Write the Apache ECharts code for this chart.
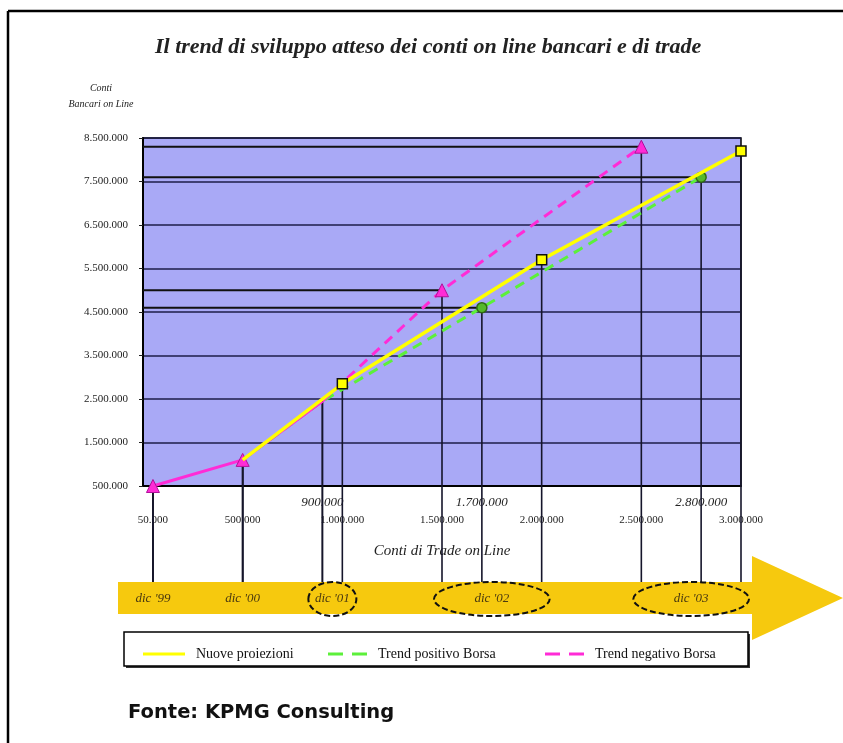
<!DOCTYPE html>
<html><head><meta charset="utf-8">
<script src="https://cdn.jsdelivr.net/npm/echarts@6/dist/echarts.min.js"></script>
<style>html,body{margin:0;padding:0;background:#fff}#c{width:843px;height:743px}</style>
</head><body><div id="c"></div>
<script>
// ---- data ----
const anni = ["dic '99", "dic '00", "dic '01", "dic '02", "dic '03"];
const tradeNuove     = [50000, 500000, 1000000, 2000000, 3000000];
const bancheNuove    = [500000, 1100000, 2850000, 5700000, 8200000];
const tradePositivo  = [50000, 500000, 900000, 1700000, 2800000];
const banchePositivo = [500000, 1100000, 2450000, 4600000, 7600000];
const tradeNegativo  = [50000, 500000, 900000, 1500000, 2500000];
const bancheNegativo = [500000, 1100000, 2450000, 5000000, 8300000];
const tradeTickLabels = [50000, 500000, 1000000, 1500000, 2000000, 2500000, 3000000];
const tradeTickLabelsAlti = [900000, 1700000, 2800000];
const nomi = ['Nuove proiezioni', 'Trend positivo Borsa', 'Trend negativo Borsa'];

// ---- helpers ----
const fmt = n => String(n).replace(/\B(?=(\d{3})+(?!\d))/g, '.');
const SERIF = '"Liberation Serif", "DejaVu Serif", serif';
const YELLOW = '#ffff00', GREEN = '#5cf03a', PINK = '#ff2bd6';

function pts(xs, ys, from, to, markIdx, mk) {
  const out = [];
  for (let i = from; i <= to; i++) {
    const p = { value: [xs[i], ys[i]] };
    if (markIdx.indexOf(i) >= 0) { Object.assign(p, mk); } else { p.symbol = 'none'; }
    out.push(p);
  }
  return out;
}
const sqMk = { symbol: 'rect', symbolSize: 10, itemStyle: { color: YELLOW, borderColor: '#111', borderWidth: 1.5 } };
const ciMk = { symbol: 'circle', symbolSize: 10, itemStyle: { color: '#56b82c', borderColor: '#2e6a12', borderWidth: 1.5 } };
const trMk = { symbol: 'triangle', symbolSize: 13, itemStyle: { color: PINK, borderColor: '#b0109a', borderWidth: 1 } };

const dashPath = 'path://M0,0h15v3h-15zM24,0h15v3h-15z';
const solidPath = 'path://M0,0h42v3h-42z';
const legTxt = { fontFamily: SERIF, fontSize: 14, color: '#111', padding: [0, 0, 0, 6] };

const option = {
  animation: false,
  backgroundColor: '#fff',
  title: {
    text: 'Il trend di sviluppo atteso dei conti on line bancari e di trade',
    left: 150, top: 31,
    textStyle: { fontFamily: SERIF, fontStyle: 'italic', fontWeight: 'bold', fontSize: 22, color: '#222' }
  },
  legend: [
    { data: [nomi[0]], left: 138, top: 642, icon: solidPath, itemWidth: 42, itemHeight: 3, textStyle: legTxt, itemStyle: { borderWidth: 0 } },
    { data: [nomi[1]], left: 323, top: 642, icon: dashPath, itemWidth: 39, itemHeight: 3, textStyle: legTxt, itemStyle: { borderWidth: 0 } },
    { data: [nomi[2]], left: 540, top: 642, icon: dashPath, itemWidth: 39, itemHeight: 3, textStyle: legTxt, itemStyle: { borderWidth: 0 } }
  ],
  grid: {
    left: 143, right: 102, top: 138, bottom: 257,
    show: true, backgroundColor: '#a9a9f6', borderColor: '#000', borderWidth: 1.5
  },
  xAxis: [
    {
      type: 'value', min: 0, max: 3000000, position: 'bottom',
      name: 'Conti di Trade on Line', nameLocation: 'middle', nameGap: 58,
      nameTextStyle: { fontFamily: SERIF, fontStyle: 'italic', fontSize: 15, color: '#222' },
      axisLine: { show: true, lineStyle: { color: '#000', width: 2 } },
      axisTick: { show: false },
      splitLine: { show: false },
      axisLabel: { customValues: tradeTickLabels, formatter: v => fmt(v), margin: 29,
        fontFamily: SERIF, fontSize: 11, color: '#222' }
    },
    {
      type: 'value', min: 0, max: 3000000, position: 'bottom',
      axisLine: { show: false }, axisTick: { show: false }, splitLine: { show: false },
      axisLabel: { customValues: tradeTickLabelsAlti, formatter: v => fmt(v), margin: 10,
        fontFamily: SERIF, fontStyle: 'italic', fontSize: 13, color: '#222' }
    }
  ],
  yAxis: {
    type: 'value', min: 500000, max: 8500000, interval: 1000000,
    axisLine: { show: true, lineStyle: { color: '#000', width: 2 } },
    axisTick: { show: true, length: 4, lineStyle: { color: '#222' } },
    splitLine: { show: true, lineStyle: { color: '#1e1e48', width: 1.5 } },
    axisLabel: { formatter: v => fmt(v), margin: 15, fontFamily: SERIF, fontSize: 11, color: '#222' }
  },
  series: [
    { name: nomi[1], type: 'line', z: 3, xAxisIndex: 0,
      data: pts(tradePositivo, banchePositivo, 1, 4, [3, 4], ciMk),
      itemStyle: { color: GREEN },
      lineStyle: { color: GREEN, width: 3, type: [10, 7] } },
    { name: 'storico', type: 'line', z: 4, xAxisIndex: 0,
      data: pts(tradeNegativo, bancheNegativo, 0, 2, [0, 1], trMk),
      itemStyle: { color: PINK },
      lineStyle: { color: PINK, width: 3 } },
    { name: nomi[2], type: 'line', z: 4, xAxisIndex: 0,
      data: pts(tradeNegativo, bancheNegativo, 2, 4, [3, 4], trMk),
      itemStyle: { color: PINK },
      lineStyle: { color: PINK, width: 3, type: [10, 7] } },
    { name: nomi[0], type: 'line', z: 5, xAxisIndex: 0,
      data: pts(tradeNuove, bancheNuove, 1, 4, [2, 3, 4], sqMk),
      itemStyle: { color: YELLOW },
      lineStyle: { color: YELLOW, width: 3.5 } }
  ]
};

const chart = echarts.init(document.getElementById('c'));
chart.setOption(option);

// ---- decorations computed from the chart's own scales ----
const toPx = (x, y) => chart.convertToPixel({ xAxisIndex: 0, yAxisIndex: 0 }, [x, y]);
const ARROW_TOP = 582, ARROW_BOT = 614, HEAD_X = 752, HEAD_TOP = 556, HEAD_BOT = 640, TIP_X = 843, ARROW_LEFT = 118;
const els = [];
const leftPx = toPx(0, 500000)[0];

// vertical drop lines
const allPts = [];
[[tradeNuove, bancheNuove], [tradePositivo, banchePositivo], [tradeNegativo, bancheNegativo]].forEach(([xs, ys]) => {
  xs.forEach((x, i) => allPts.push({ x, y: ys[i], i }));
});
allPts.forEach(p => {
  const [px, py] = toPx(p.x, p.y);
  els.push({ type: 'line', z: 1, shape: { x1: px, y1: py, x2: px, y2: ARROW_TOP + 2 },
    style: { stroke: '#15152a', lineWidth: 1.6 } });
});
// horizontal drop lines to the y axis (scenario points)
[[tradePositivo, banchePositivo], [tradeNegativo, bancheNegativo]].forEach(([xs, ys]) => {
  [3, 4].forEach(i => {
    const [px, py] = toPx(xs[i], ys[i]);
    els.push({ type: 'line', z: 1, shape: { x1: leftPx, y1: py, x2: px, y2: py },
      style: { stroke: '#111', lineWidth: 2 } });
  });
});

// timeline arrow
els.push({ type: 'polygon', z: 2, shape: { points: [
  [ARROW_LEFT, ARROW_TOP], [HEAD_X, ARROW_TOP], [HEAD_X, HEAD_TOP], [TIP_X, (HEAD_TOP + HEAD_BOT) / 2],
  [HEAD_X, HEAD_BOT], [HEAD_X, ARROW_BOT], [ARROW_LEFT, ARROW_BOT]] },
  style: { fill: '#f6c90e' } });

const labY = (ARROW_TOP + ARROW_BOT) / 2 + 1;
anni.forEach((a, i) => {
  const xs = [tradeNuove[i], tradePositivo[i], tradeNegativo[i]].map(v => toPx(v, 500000)[0]);
  const mn = Math.min.apply(null, xs), mx = Math.max.apply(null, xs);
  const cx = (mn + mx) / 2;
  els.push({ type: 'text', z: 4, style: { text: a, x: cx, y: labY, align: 'center', verticalAlign: 'middle',
    font: 'italic 13px ' + SERIF, fill: '#4a3a10' } });
  if (i >= 2) {
    const rx = Math.max(24, (mx - mn) / 2 + 8);
    els.push({ type: 'ellipse', z: 3, shape: { cx: cx, cy: labY, rx: rx, ry: 17 },
      style: { fill: null, stroke: '#111', lineWidth: 2, lineDash: [6, 3] } });
  }
});

// legend box
els.push({ type: 'rect', z: 0, shape: { x: 126, y: 634, width: 624, height: 34 }, style: { fill: '#333' } });
els.push({ type: 'rect', z: 1, shape: { x: 124, y: 632, width: 624, height: 34 },
  style: { fill: '#fff', stroke: '#000', lineWidth: 1.5 } });

// y axis name
els.push({ type: 'text', style: { text: 'Conti\nBancari on Line', x: 101, y: 96, align: 'center', verticalAlign: 'middle',
  font: 'italic 10px ' + SERIF, fill: '#222', lineHeight: 16 } });

// frame
els.push({ type: 'line', shape: { x1: 8, y1: 11, x2: 843, y2: 11 }, style: { stroke: '#000', lineWidth: 2.5 } });
els.push({ type: 'line', shape: { x1: 8, y1: 11, x2: 8, y2: 743 }, style: { stroke: '#000', lineWidth: 2.5 } });

// footer
els.push({ type: 'text', style: { text: 'Fonte: KPMG Consulting', x: 128, y: 713, verticalAlign: 'middle',
  font: 'bold 19.5px "DejaVu Sans", Verdana, sans-serif', fill: '#111' } });

chart.setOption({ graphic: { elements: els } });
</script>
</body></html>
